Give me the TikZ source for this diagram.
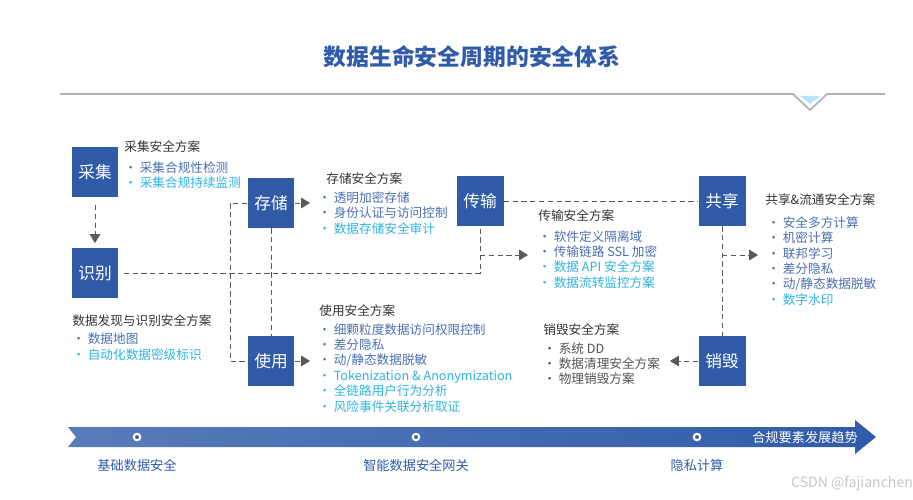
\documentclass[tikz,border=0pt]{standalone}
\usepackage{fontspec}
\setmainfont{Noto Sans CJK SC}
\usetikzlibrary{arrows.meta}
\definecolor{boxblue}{HTML}{2F5BA9}
\definecolor{itemblue}{HTML}{4A6FB0}
\definecolor{itemcyan}{HTML}{2EB3E3}
\definecolor{headgrey}{HTML}{333333}
\tikzset{>=Triangle}
\newcommand{\itb}[1]{\textcolor{itemblue}{\textbullet\ #1}}
\newcommand{\itc}[1]{\textcolor{itemcyan}{\textbullet\ #1}}
\newcommand{\itg}[1]{\textcolor{headgrey!85}{\textbullet\ #1}}
\begin{document}
\begin{tikzpicture}[x=0.02cm,y=-0.02cm,
    stage/.style={fill=boxblue,text=white,minimum width=0.94cm,minimum height=1cm,inner sep=0pt,font=\fontsize{9.5}{10}\selectfont},
    head/.style={anchor=north west,inner sep=0pt,text=headgrey,font=\fontsize{7.2}{8.8}\selectfont},
    items/.style={anchor=north west,inner sep=0pt,align=left,font=\fontsize{7.2}{8.8}\selectfont},
    link/.style={densely dashed,gray!70!black,thin},
    tip/.style={link,-{Triangle[length=5pt,width=6pt]}}]
  \useasboundingbox (0,0) rectangle (913,500);
  % title
  \node[text=boxblue,font=\bfseries\fontsize{13}{14}\selectfont] (title) at (472,57) {数据生命安全周期的安全体系};
  \draw[gray!60,line width=1pt] (60,94) -- (793,94) -- (810,110) -- (827,94) -- (885,94);
  \fill[cyan!30] (800,96) -- (810,104) -- (820,96) -- cycle;
  % stages
  \node[stage] (cj) at (95,172) {采集};
  \node[stage] (sb) at (95,273) {识别};
  \node[stage] (cc) at (271,203) {存储};
  \node[stage] (sy) at (271,361) {使用};
  \node[stage] (cs) at (480,201) {传输};
  \node[stage] (gx) at (722,201) {共享};
  \node[stage] (xh) at (722,361) {销毁};
  \coordinate (jl) at (480,273);
  \coordinate (jr) at (480,255);
  \coordinate (lt) at (230,203);
  \coordinate (lb) at (230,361);
  \coordinate (gr) at (722,255);
  % connectors
  \draw[tip] (95,205) -- (95,243);
  \draw[link] (sb.east) ++(5,0) -- (jl) -- (cs.south);
  \draw[tip] (jr) -- (528,255);
  \draw[link] (cc.west) -- (lt) -- (lb) -- (sy.west);
  \draw[link] (cc.south) -- (sy.north);
  \draw[tip] (cc.east) -- (310,203);
  \draw[tip] (sy.east) -- (310,361);
  \draw[link] (cs.east) -- (gx.west);
  \draw[link] (gx.south) -- (xh.north);
  \draw[tip] (gr) -- (758,255);
  \draw[tip] (xh.west) -- (670,361);
  % plans
  \node[head] (hcj) at (124,140) {采集安全方案};
  \node[items] (icj) at (124,161) {\itb{采集合规性检测}\\\itc{采集合规持续监测}};
  \node[head] (hcc) at (326,172) {存储安全方案};
  \node[items] (icc) at (318,191) {\itb{透明加密存储}\\\itb{身份认证与访问控制}\\\itc{数据存储安全审计}};
  \node[head] (hcs) at (538,209) {传输安全方案};
  \node[items] (ics) at (538,230) {\itb{软件定义隔离域}\\\itb{传输链路 SSL 加密}\\\itc{数据 API 安全方案}\\\itc{数据流转监控方案}};
  \node[head] (hgx) at (765,193) {共享\&流通安全方案};
  \node[items] (igx) at (767,216) {\itb{安全多方计算}\\\itb{机密计算}\\\itb{联邦学习}\\\itb{差分隐私}\\\itb{动/静态数据脱敏}\\\itc{数字水印}};
  \node[head] (hsb) at (72,314) {数据发现与识别安全方案};
  \node[items] (isb) at (72,333) {\itb{数据地图}\\\itc{自动化数据密级标识}};
  \node[head] (hsy) at (319,304) {使用安全方案};
  \node[items] (isy) at (318,323) {\itb{细颗粒度数据访问权限控制}\\\itb{差分隐私}\\\itb{动/静态数据脱敏}\\\itc{Tokenization \& Anonymization}\\\itc{全链路用户行为分析}\\\itc{风险事件关联分析取证}};
  \node[head] (hxh) at (543,323) {销毁安全方案};
  \node[items] (ixh) at (543,342) {\itg{系统 DD}\\\itg{数据清理安全方案}\\\itg{物理销毁方案}};
  % trend band
  \shade[left color=boxblue!80,right color=boxblue] (68,427) -- (855,427) -- (855,420) -- (876,437) -- (855,454) -- (855,447) -- (68,447) -- (76,437) -- cycle;
  \node[text=white,font=\fontsize{7.5}{8}\selectfont] (trend) at (805,437) {合规要素发展趋势};
  \foreach \px/\lab in {137/基础数据安全,416/智能数据安全网关,697/隐私计算}{
    \draw[white,fill=boxblue,line width=1.2pt] (\px,437) circle (3.2);
    \node[text=boxblue,font=\fontsize{7.5}{8}\selectfont] at (\px,465) {\lab};
  }
  \node[text=gray!45,font=\fontsize{8}{9}\selectfont] (mark) at (852,484) {CSDN @fajianchen};
\end{tikzpicture}
\end{document}
